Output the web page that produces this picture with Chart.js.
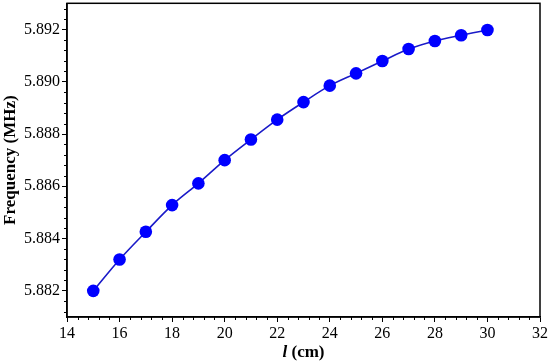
<!DOCTYPE html>
<html>
<head>
<meta charset="utf-8">
<script src="https://cdn.jsdelivr.net/npm/chart.js@4/dist/chart.umd.min.js"></script>
<style>
  html, body { margin: 0; padding: 0; background: #fff; }
  #wrap { width: 550px; height: 364px; overflow: hidden; }
  #chart { display: block; margin-top: -3px; }
</style>
</head>
<body>
<div id="wrap"><canvas id="chart" width="550" height="367"></canvas></div>
<script>
// data
var lengths = [15, 16, 17, 18, 19, 20, 21, 22, 23, 24, 25, 26, 27, 28, 29, 30];
var freqs = [5.8820, 5.88320, 5.88426, 5.88528, 5.88611, 5.88700, 5.88779, 5.88855,
             5.88922, 5.88985, 5.89032, 5.89079, 5.89125, 5.89156, 5.89178, 5.89198];

var xTicks = [14, 16, 18, 20, 22, 24, 26, 28, 30, 32];
var yTicks = [5.882, 5.884, 5.886, 5.888, 5.890, 5.892];

var FONT = "'Liberation Serif', 'Times New Roman', serif";
Chart.defaults.font.family = FONT;

// minor ticks, frame and the x title, drawn through the chart's scales
var framePlugin = {
    id: 'frame',
    afterDraw: function(chart) {
        var ctx = chart.ctx;
        var area = chart.chartArea;
        var xs = chart.scales.x, ys = chart.scales.y;
        ctx.save();
        ctx.strokeStyle = '#000';
        ctx.lineWidth = 1.5;
        ctx.strokeRect(area.left, area.top, area.right - area.left, area.bottom - area.top);

        ctx.lineWidth = 1;
        ctx.beginPath();
        var v, p;
        for (v = 14.4; v < 32; v += 0.4) {
            if (Math.abs(v / 2 - Math.round(v / 2)) < 1e-6) continue;
            p = Math.round(xs.getPixelForValue(v)) + 0.5;
            ctx.moveTo(p, area.bottom);
            ctx.lineTo(p, area.bottom + 3);
        }
        for (v = 5.8812; v < 5.893; v += 0.0004) {
            var k = Math.round((v - 5.882) / 0.0004);
            if (k % 5 === 0) continue;
            p = Math.round(ys.getPixelForValue(5.882 + k * 0.0004)) + 0.5;
            ctx.moveTo(area.left, p);
            ctx.lineTo(area.left - 3, p);
        }
        ctx.stroke();

        // x title with italic l
        var cx = (area.left + area.right) / 2;
        var ty = area.bottom + 36;
        ctx.fillStyle = '#000';
        ctx.textBaseline = 'middle';
        ctx.font = 'italic bold 17px ' + FONT;
        var w1 = ctx.measureText('l').width;
        ctx.font = 'bold 17px ' + FONT;
        var w2 = ctx.measureText(' (cm)').width;
        var x0 = cx - (w1 + w2) / 2;
        ctx.textAlign = 'left';
        ctx.font = 'italic bold 17px ' + FONT;
        ctx.fillText('l', x0, ty);
        ctx.font = 'bold 17px ' + FONT;
        ctx.fillText(' (cm)', x0 + w1, ty);
        ctx.restore();
    }
};

var ctx = document.getElementById('chart').getContext('2d');
var chart = new Chart(ctx, {
    type: 'line',
    data: {
        datasets: [{
            data: lengths.map(function(l, i) { return { x: l, y: freqs[i] }; }),
            borderColor: '#1a1ac8',
            borderWidth: 1.6,
            backgroundColor: '#0000ff',
            pointBackgroundColor: '#0000ff',
            pointBorderColor: '#0000ff',
            pointRadius: 6.3,
            pointBorderWidth: 0,
            cubicInterpolationMode: 'monotone',
            fill: false
        }]
    },
    options: {
        responsive: false,
        animation: false,
        events: [],
        layout: { padding: { top: 0, right: 10, left: 0, bottom: 0 } },
        plugins: {
            legend: { display: false },
            tooltip: { enabled: false }
        },
        scales: {
            x: {
                type: 'linear',
                min: 14,
                max: 32,
                afterBuildTicks: function(scale) {
                    scale.ticks = xTicks.map(function(v) { return { value: v }; });
                },
                afterFit: function(scale) {
                    scale.height = 47;
                    scale.paddingLeft = 0;
                    scale.paddingRight = 0;
                },
                grid: {
                    drawOnChartArea: false,
                    drawTicks: true,
                    tickLength: 5,
                    tickColor: '#000',
                    tickWidth: 1
                },
                border: { display: true, color: '#000', width: 1.5 },
                ticks: {
                    color: '#000',
                    padding: 2,
                    maxRotation: 0,
                    autoSkip: false,
                    font: { family: FONT, size: 16 }
                },
                title: { display: false, text: 'l (cm)' }
            },
            y: {
                type: 'linear',
                min: 5.881,
                max: 5.893,
                afterBuildTicks: function(scale) {
                    scale.ticks = yTicks.map(function(v) { return { value: v }; });
                },
                afterFit: function(scale) {
                    scale.width = 67;
                    scale.paddingTop = 0;
                    scale.paddingBottom = 0;
                },
                grid: {
                    drawOnChartArea: false,
                    drawTicks: true,
                    tickLength: 5,
                    tickColor: '#000',
                    tickWidth: 1
                },
                border: { display: true, color: '#000', width: 1.5 },
                ticks: {
                    color: '#000',
                    padding: 2,
                    autoSkip: false,
                    font: { family: FONT, size: 16 },
                    callback: function(v) { return v.toFixed(3); }
                },
                title: {
                    display: true,
                    text: 'Frequency (MHz)',
                    color: '#000',
                    padding: { top: 0, bottom: 0 },
                    font: { family: FONT, size: 17, weight: 'bold' }
                }
            }
        }
    },
    plugins: [framePlugin]
});
</script>
</body>
</html>
